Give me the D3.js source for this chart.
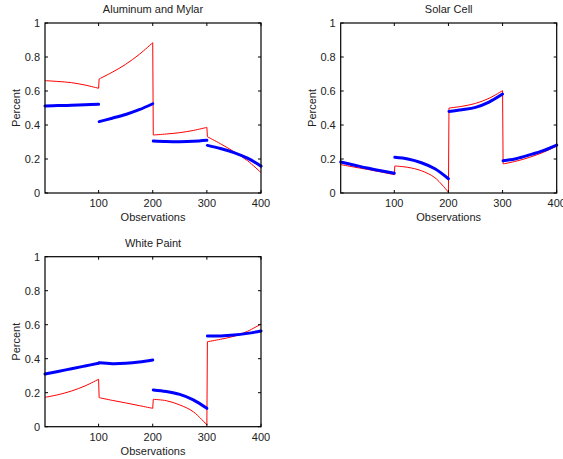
<!DOCTYPE html>
<meta charset="UTF-8">
<style>
body { margin: 0; background: #fff; }
text { font-family: "Liberation Sans", Arial, sans-serif; font-size: 11px; fill: #222; }
.box { fill: none; stroke: #000; stroke-width: 1.2px; }
.tick { stroke: #000; stroke-width: 1px; }
.red { fill: none; stroke: #ff0000; stroke-width: 1px; }
.blue { fill: none; stroke: #0000ff; stroke-width: 3px; stroke-linecap: round; }
</style>
<body>
<script src="https://d3js.org/d3.v7.min.js"></script>
<script>

// observation numbers sampled along each of the 4 segments
var segObs = [
  [1, 25, 50, 75, 100],
  [101, 125, 150, 175, 200],
  [201, 225, 250, 275, 300],
  [301, 325, 350, 375, 400]
];

var titles = ["Aluminum and Mylar", "Solar Cell", "White Paint"];

// red (thin) values per segment, for each panel
var redAlum  = [[0.661, 0.656, 0.649, 0.635, 0.616], [0.671, 0.71, 0.757, 0.815, 0.884],
                [0.341, 0.347, 0.355, 0.368, 0.386], [0.331, 0.29, 0.243, 0.19, 0.12]];
var redSolar = [[0.167, 0.153, 0.139, 0.124, 0.108], [0.159, 0.151, 0.131, 0.09, 0.004],
                [0.5, 0.51, 0.527, 0.557, 0.602], [0.171, 0.187, 0.21, 0.239, 0.276]];
var redPaint = [[0.173, 0.188, 0.21, 0.24, 0.279], [0.171, 0.155, 0.14, 0.124, 0.108],
                [0.161, 0.153, 0.128, 0.088, 0.01], [0.5, 0.514, 0.532, 0.561, 0.604]];

// blue (thick) values per segment, for each panel
var blueAlum  = [[0.512, 0.514, 0.516, 0.519, 0.522], [0.42, 0.44, 0.462, 0.49, 0.525],
                 [0.306, 0.303, 0.302, 0.304, 0.31], [0.28, 0.262, 0.238, 0.205, 0.158]];
var blueSolar = [[0.182, 0.165, 0.147, 0.131, 0.116], [0.21, 0.2, 0.178, 0.143, 0.084],
                 [0.48, 0.49, 0.504, 0.535, 0.582], [0.19, 0.202, 0.224, 0.249, 0.282]];
var bluePaint = [[0.31, 0.325, 0.341, 0.357, 0.373], [0.376, 0.371, 0.373, 0.38, 0.392],
                 [0.216, 0.207, 0.19, 0.158, 0.108], [0.534, 0.534, 0.539, 0.549, 0.563]];

var yTicks = [0, 0.2, 0.4, 0.6, 0.8, 1];
var xTicks = [100, 200, 300, 400];

var panels = [
  {title: titles[0], red: redAlum,  blue: blueAlum,  left: 45,    top: 23},
  {title: titles[1], red: redSolar, blue: blueSolar, left: 340.7, top: 23},
  {title: titles[2], red: redPaint, blue: bluePaint, left: 45,    top: 256.7}
];

var W = 216, H = 170;

var svg = d3.select("body").append("svg")
    .attr("width", 563)
    .attr("height", 459);

var x = d3.scaleLinear().domain([1, 400]).range([0, W]);
var y = d3.scaleLinear().domain([0, 1]).range([H, 0]);

var line = d3.line()
    .x(function(d) { return x(d[0]); })
    .y(function(d) { return y(d[1]); })
    .curve(d3.curveCatmullRom);

function pts(vals, k) {
  return segObs[k].map(function(o, i) { return [o, vals[i]]; });
}

panels.forEach(function(p) {
  var g = svg.append("g").attr("transform", "translate(" + p.left + "," + p.top + ")");

  // red line: segments joined by vertical jumps
  var d = p.red.map(function(vals, k) {
    var s = line(pts(vals, k));
    return k == 0 ? s : "L" + s.slice(1);
  }).join("");
  g.append("path").attr("class", "red").attr("d", d);

  // blue: separate thick segments
  p.blue.forEach(function(vals, k) {
    g.append("path").attr("class", "blue").attr("d", line(pts(vals, k)));
  });

  // inward ticks on all four sides
  yTicks.forEach(function(t) {
    g.append("line").attr("class", "tick").attr("x1", 0).attr("x2", 3).attr("y1", y(t)).attr("y2", y(t));
    g.append("line").attr("class", "tick").attr("x1", W).attr("x2", W - 3).attr("y1", y(t)).attr("y2", y(t));
    g.append("text").attr("x", -5).attr("y", y(t)).attr("dy", "0.35em")
      .attr("text-anchor", "end").text(t);
  });
  xTicks.forEach(function(t) {
    g.append("line").attr("class", "tick").attr("x1", x(t)).attr("x2", x(t)).attr("y1", H).attr("y2", H - 3);
    g.append("line").attr("class", "tick").attr("x1", x(t)).attr("x2", x(t)).attr("y1", 0).attr("y2", 3);
    g.append("text").attr("x", x(t)).attr("y", H + 14)
      .attr("text-anchor", "middle").text(t);
  });

  g.append("rect").attr("class", "box").attr("width", W).attr("height", H);

  g.append("text").attr("x", W / 2).attr("y", -10).attr("text-anchor", "middle").text(p.title);
  g.append("text").attr("x", W / 2).attr("y", H + 28).attr("text-anchor", "middle").text("Observations");
  g.append("text").attr("transform", "translate(-25," + (H / 2) + ") rotate(-90)")
    .attr("text-anchor", "middle").text("Percent");
});

</script>
</body>
